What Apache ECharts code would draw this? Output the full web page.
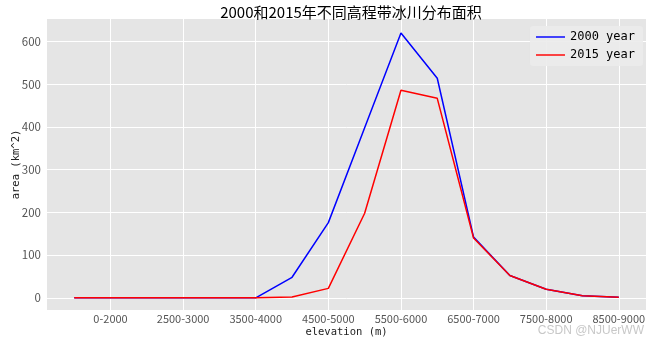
<!DOCTYPE html>
<html>
<head>
<meta charset="utf-8">
<script src="https://cdn.jsdelivr.net/npm/echarts@6/dist/echarts.min.js"></script>
<style>html,body{margin:0;padding:0;background:#fff}#c{width:650px;height:340px}</style>
</head>
<body>
<div id="c"></div>
<script>
// Elevation bands (category index positions on the x axis)
const categories = ['<0','0-2000','2000-2500','2500-3000','3000-3500','3500-4000','4000-4500','4500-5000',
  '5000-5500','5500-6000','6000-6500','6500-7000','7000-7500','7500-8000','8000-8500','8500-9000'];
// Tick labels shown on the x axis (every other band)
const xTickLabels = ['0-2000','2500-3000','3500-4000','4500-5000','5500-6000','6500-7000','7500-8000','8500-9000'];
const yTicks = [0,100,200,300,400,500,600];
// Glacier area (km^2)
const area2000 = [0,0,0,0,0,0,48,176,398,620,514,142,52,20,5,1];
const area2015 = [0,0,0,0,0,0,2,22,198,486,467,140,52,20,5,1];

const xTickPos = xTickLabels.map(l => categories.indexOf(l));
const toPairs = arr => arr.map((v, i) => [i, v]);

const chart = echarts.init(document.getElementById('c'), null, {renderer: 'canvas'});
const monoFont = '"DejaVu Sans Mono", "Liberation Mono", monospace';
chart.setOption({
  animation: false,
  backgroundColor: '#ffffff',
  title: {
    text: '2000和2015年不同高程带冰川分布面积',
    left: 346, textAlign: 'center', top: 0,
    textStyle: {fontFamily: '"Noto Sans CJK SC", sans-serif', fontSize: 15, fontWeight: 'normal', color: '#000'}
  },
  grid: {left: 47, right: 4, top: 19, bottom: 30, show: true, backgroundColor: '#e5e5e5', borderWidth: 0,
         containLabel: false, outerBoundsMode: 'none'},
  legend: {
    right: 7, top: 26, orient: 'vertical', itemGap: 6,
    itemWidth: 29, itemHeight: 12,
    backgroundColor: 'rgba(235,235,235,0.9)', borderRadius: 3, padding: [5, 8, 5, 6],
    textStyle: {fontFamily: monoFont, fontSize: 12, color: '#000'},
    data: [{name: '2000 year', icon: 'path://M0,5L30,5L30,6.5L0,6.5Z'}, {name: '2015 year', icon: 'path://M0,5L30,5L30,6.5L0,6.5Z'}]
  },
  xAxis: {
    type: 'value', min: -0.75, max: 15.75,
    name: 'elevation (m)', nameLocation: 'middle', nameGap: 17, nameMoveOverlap: false,
    nameTextStyle: {fontFamily: monoFont, fontSize: 10.5, color: '#222'},
    axisLine: {show: false},
    axisTick: {show: false, customValues: xTickPos},
    axisLabel: {
      customValues: xTickPos, margin: 3,
      fontFamily: '"Noto Sans CJK SC", sans-serif', fontSize: 11, color: '#555',
      formatter: v => categories[Math.round(v)]
    },
    splitLine: {show: true, lineStyle: {color: '#ffffff', width: 1}}
  },
  yAxis: {
    type: 'value', min: -28.6, max: 652.7,
    name: 'area (km^2)', nameLocation: 'middle', nameGap: 25, nameRotate: 90, nameMoveOverlap: false,
    nameTextStyle: {fontFamily: monoFont, fontSize: 10.5, color: '#222'},
    axisLine: {show: false},
    axisTick: {show: false, customValues: yTicks},
    axisLabel: {customValues: yTicks, margin: 6, fontFamily: '"Noto Sans CJK SC", sans-serif', fontSize: 11.5, color: '#555'},
    splitLine: {show: true, lineStyle: {color: '#ffffff', width: 1}}
  },
  series: [
    {name: '2000 year', type: 'line', data: toPairs(area2000), showSymbol: false, symbol: 'none',
     lineStyle: {color: '#0000ff', width: 1.5}, itemStyle: {color: '#0000ff'}},
    {name: '2015 year', type: 'line', data: toPairs(area2015), showSymbol: false, symbol: 'none',
     lineStyle: {color: '#ff0000', width: 1.5}, itemStyle: {color: '#ff0000'}}
  ],
  graphic: [{
    type: 'text', right: 6, bottom: 3,
    style: {text: 'CSDN @NJUerWW', fontFamily: '"Liberation Sans", Arial, sans-serif', fontSize: 12, fill: '#c8c8c8'}
  }]
});
</script>
</body>
</html>
